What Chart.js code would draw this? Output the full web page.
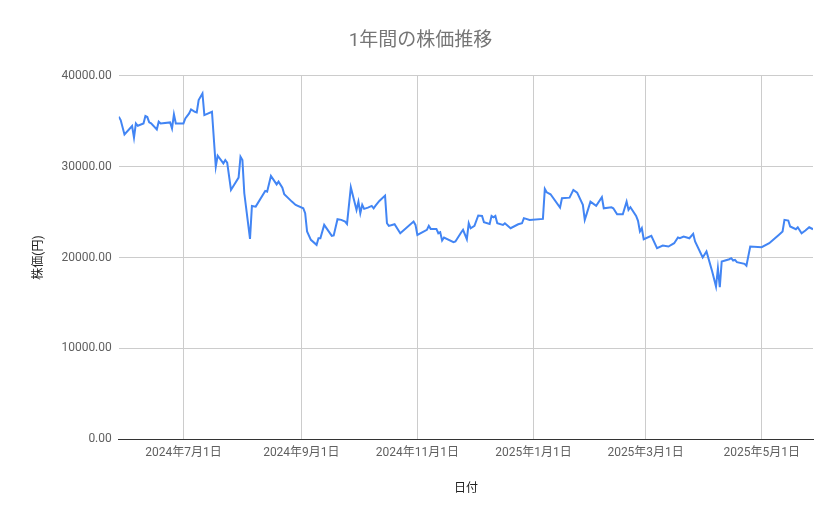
<!DOCTYPE html>
<html lang="ja">
<head>
<meta charset="utf-8">
<title>1年間の株価推移</title>
<script src="https://cdn.jsdelivr.net/npm/chart.js@4.4.1/dist/chart.umd.min.js"></script>
<style>
    html, body {
        margin: 0;
        padding: 0;
        background: #ffffff;
    }

    #wrap {
        width: 839px;
        height: 519px;
    }
</style>
</head>
<body>
<div id="wrap">
    <canvas id="graficoPreco" width="839" height="519"></canvas>
</div>

<script>
// data

const datas = [
    "2024-05-28", "2024-05-29", "2024-05-31", "2024-06-04", "2024-06-05",
    "2024-06-06", "2024-06-07", "2024-06-10", "2024-06-11", "2024-06-12",
    "2024-06-13", "2024-06-14", "2024-06-17", "2024-06-18", "2024-06-19",
    "2024-06-24", "2024-06-25", "2024-06-26", "2024-06-27", "2024-07-01",
    "2024-07-02", "2024-07-04", "2024-07-05", "2024-07-07", "2024-07-08",
    "2024-07-09", "2024-07-11", "2024-07-12", "2024-07-16", "2024-07-18",
    "2024-07-19", "2024-07-22", "2024-07-23", "2024-07-24", "2024-07-26",
    "2024-07-30", "2024-07-31", "2024-08-01", "2024-08-02", "2024-08-05",
    "2024-08-06", "2024-08-08", "2024-08-13", "2024-08-14", "2024-08-16",
    "2024-08-19", "2024-08-20", "2024-08-22", "2024-08-23", "2024-08-27",
    "2024-08-29", "2024-09-02", "2024-09-03", "2024-09-04", "2024-09-06",
    "2024-09-09", "2024-09-10", "2024-09-11", "2024-09-13", "2024-09-17",
    "2024-09-18", "2024-09-20", "2024-09-22", "2024-09-24", "2024-09-25",
    "2024-09-27", "2024-09-30", "2024-10-01", "2024-10-02", "2024-10-03",
    "2024-10-04", "2024-10-06", "2024-10-08", "2024-10-09", "2024-10-10",
    "2024-10-12", "2024-10-15", "2024-10-16", "2024-10-17", "2024-10-20",
    "2024-10-23", "2024-10-30", "2024-10-31", "2024-11-01", "2024-11-06",
    "2024-11-07", "2024-11-08", "2024-11-11", "2024-11-12", "2024-11-13",
    "2024-11-14", "2024-11-15", "2024-11-20", "2024-11-21", "2024-11-24",
    "2024-11-25", "2024-11-27", "2024-11-28", "2024-11-29", "2024-12-01",
    "2024-12-03", "2024-12-05", "2024-12-06", "2024-12-09", "2024-12-10",
    "2024-12-11", "2024-12-12", "2024-12-13", "2024-12-16", "2024-12-17",
    "2024-12-20", "2024-12-24", "2024-12-26", "2024-12-27", "2024-12-30",
    "2025-01-06", "2025-01-07", "2025-01-08", "2025-01-10", "2025-01-15",
    "2025-01-16", "2025-01-20", "2025-01-22", "2025-01-24", "2025-01-27",
    "2025-01-28", "2025-01-29", "2025-01-31", "2025-02-03", "2025-02-06",
    "2025-02-07", "2025-02-11", "2025-02-12", "2025-02-14", "2025-02-17",
    "2025-02-19", "2025-02-20", "2025-02-21", "2025-02-24", "2025-02-25",
    "2025-02-26", "2025-02-27", "2025-02-28", "2025-03-04", "2025-03-07",
    "2025-03-10", "2025-03-13", "2025-03-16", "2025-03-18", "2025-03-19",
    "2025-03-21", "2025-03-24", "2025-03-26", "2025-03-27", "2025-03-31",
    "2025-04-02", "2025-04-05", "2025-04-07", "2025-04-08", "2025-04-09",
    "2025-04-10", "2025-04-14", "2025-04-15", "2025-04-16", "2025-04-17",
    "2025-04-18", "2025-04-22", "2025-04-23", "2025-04-25", "2025-05-01",
    "2025-05-05", "2025-05-08", "2025-05-10", "2025-05-12", "2025-05-13",
    "2025-05-15", "2025-05-16", "2025-05-19", "2025-05-20", "2025-05-22",
    "2025-05-24", "2025-05-26", "2025-05-28"
];

const precos = [
    35500, 35130, 33550, 34470, 33190,
    34760, 34500, 34760, 35570, 35460,
    34870, 34760, 34100, 34950, 34760,
    34870, 34210, 35750, 34760, 34760,
    35310, 35860, 36300, 36040, 35970,
    37330, 38060, 35680, 36040, 30000,
    31210, 30360, 30730, 30450, 27440,
    28790, 31100, 30730, 27070, 22050,
    25680, 25600, 27330, 27250, 28980,
    28050, 28350, 27690, 26960, 26150,
    25790, 25420, 24870, 22860, 21940,
    21390, 22120, 22120, 23590, 22380,
    22420, 24210, 24140, 23960, 23700,
    27730, 25240, 26150, 24870, 25790,
    25350, 25490, 25680, 25420, 25710,
    26230, 26810, 23770, 23480, 23660,
    22670, 23960, 23590, 22490, 23040,
    23480, 23150, 23150, 22670, 22780,
    21870, 22200, 21680, 21760, 22750,
    23040, 22010, 23770, 23220, 23480,
    24620, 24580, 23880, 23700, 24580,
    24430, 24580, 23770, 23590, 23770,
    23220, 23660, 23770, 24330, 24140,
    24250, 27550, 27180, 26960, 25490,
    26520, 26590, 27440, 27140, 25790,
    24140, 24800, 26150, 25680, 26630,
    25420, 25530, 25420, 24760, 24760,
    26150, 25240, 25530, 24580, 24030,
    22860, 23220, 22010, 22380, 21020,
    21320, 21210, 21570, 22200, 22120,
    22310, 22120, 22600, 21760, 20000,
    20660, 18460, 16810, 18820, 16740,
    19560, 19810, 19920, 19670, 19740,
    19490, 19300, 19090, 21210, 21130,
    21570, 22120, 22490, 22860, 24140,
    24070, 23410, 23110, 23330, 22670,
    22970, 23330, 23110
];

const ticksDatas = [
    "2024-07-01", "2024-09-01", "2024-11-01",
    "2025-01-01", "2025-03-01", "2025-05-01"
];

const ticksRotulos = [
    "2024年7月1日", "2024年9月1日", "2024年11月1日",
    "2025年1月1日", "2025年3月1日", "2025年5月1日"
];

const ticksValores = [0, 10000, 20000, 30000, 40000];

const fonte =
    "Roboto, 'Noto Sans CJK JP', sans-serif";

function paraDia(texto) {

    return Date.parse(texto) / 86400000;
}

function renderizarGrafico() {

    const canvas =
        document.getElementById("graficoPreco");

    const pontos =
        datas.map((d, i) => ({
            x: paraDia(d),
            y: precos[i]
        }));

    const diasTicks =
        ticksDatas.map(paraDia);

    new Chart(canvas, {

        type: "line",

        data: {

            datasets: [
                {
                    label: "株価",

                    data: pontos,

                    borderColor: "#4285f4",

                    borderWidth: 2,

                    pointRadius: 0,

                    tension: 0,

                    fill: false
                }
            ]
        },

        options: {

            responsive: false,

            animation: false,

            layout: {
                padding: {
                    top: 18,
                    right: 26,
                    bottom: 19,
                    left: 28
                }
            },

            plugins: {

                legend: {
                    display: false
                },

                tooltip: {
                    enabled: false
                },

                title: {

                    display: true,

                    text: "1年間の株価推移",

                    color: "#757575",

                    font: {
                        family: fonte,
                        size: 19,
                        weight: "normal"
                    },

                    padding: {
                        top: 12,
                        bottom: 23
                    }
                }
            },

            scales: {

                x: {

                    type: "linear",

                    min: paraDia(datas[0]),

                    max: paraDia(datas[datas.length - 1]),

                    afterBuildTicks: escala => {

                        escala.ticks =
                            diasTicks.map(v => ({ value: v }));
                    },

                    grid: {
                        color: "#cccccc",
                        drawTicks: false
                    },

                    border: {
                        display: true,
                        color: "#333333",
                        width: 1
                    },

                    ticks: {

                        autoSkip: false,

                        maxRotation: 0,

                        padding: 7,

                        color: "#5f5f5f",

                        font: {
                            family: fonte,
                            size: 12
                        },

                        callback: valor => {

                            const i =
                                diasTicks.indexOf(valor);

                            return i >= 0 ? ticksRotulos[i] : "";
                        }
                    },

                    title: {

                        display: true,

                        text: "日付",

                        color: "#222222",

                        font: {
                            family: fonte,
                            size: 12
                        },

                        padding: {
                            top: 14,
                            bottom: 4
                        }
                    }
                },

                y: {

                    min: 0,

                    max: 40000,

                    afterBuildTicks: escala => {

                        escala.ticks =
                            ticksValores.map(v => ({ value: v }));
                    },

                    grid: {

                        drawTicks: false,

                        color: ctx =>
                            ctx.tick && ctx.tick.value === 0
                                ? "#333333"
                                : "#cccccc"
                    },

                    border: {
                        display: false
                    },

                    ticks: {

                        padding: 7,

                        color: "#5f5f5f",

                        font: {
                            family: fonte,
                            size: 12
                        },

                        callback: v =>
                            Number(v).toFixed(2)
                    },

                    title: {

                        display: true,

                        text: "株価(円)",

                        color: "#222222",

                        font: {
                            family: fonte,
                            size: 12
                        },

                        padding: {
                            top: 4,
                            bottom: 8
                        }
                    }
                }
            }
        }
    });
}

renderizarGrafico();
</script>
</body>
</html>
